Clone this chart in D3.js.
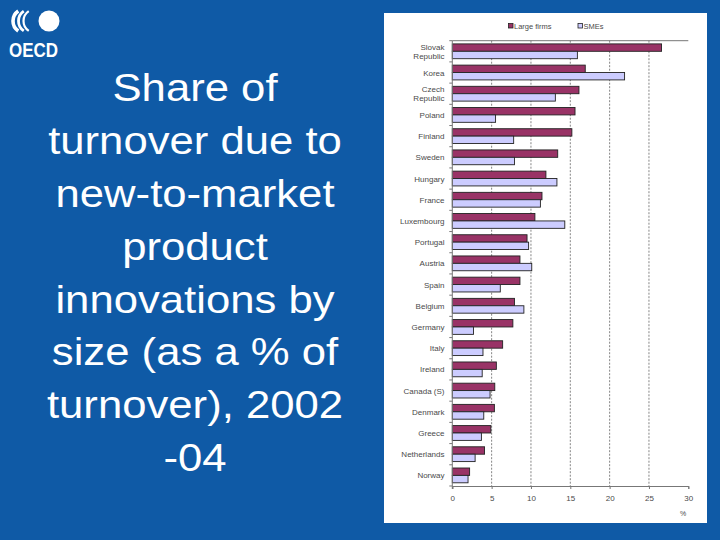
<!DOCTYPE html>
<html><head><meta charset="utf-8">
<script src="https://cdn.jsdelivr.net/npm/d3@7"></script>
<style>body{margin:0;padding:0;background:#0F5AA6;}svg{display:block;}</style>
</head><body>
<svg id="c" width="720" height="540"></svg>
<script>
const titleLines = ["Share of","turnover due to","new-to-market","product","innovations by","size (as a % of","turnover), 2002","-04"];
const categories = ["Slovak Republic","Korea","Czech Republic","Poland","Finland","Sweden","Hungary","France","Luxembourg","Portugal","Austria","Spain","Belgium","Germany","Italy","Ireland","Canada (S)","Denmark","Greece","Netherlands","Norway"];
const largeFirms = [26.6,16.9,16.1,15.6,15.2,13.4,11.9,11.4,10.5,9.5,8.6,8.6,7.9,7.7,6.4,5.6,5.4,5.35,4.9,4.1,2.2];
const smes = [15.9,21.9,13.1,5.5,7.8,7.9,13.3,11.2,14.3,9.7,10.1,6.1,9.1,2.7,3.9,3.8,4.8,4.0,3.7,2.9,2.0];
const seriesNames = ["Large firms","SMEs"];
const xTicks = [0,5,10,15,20,25,30];
const unitLabel = "%";

const svg = d3.select("#c");
svg.append("rect").attr("width",720).attr("height",540).attr("fill","#0F5AA6");

// logo
const logo = svg.append("g");
logo.append("circle").attr("cx",49).attr("cy",21).attr("r",10.5).attr("fill","#fff");
[[13,3.6],[18.5,2.8],[23.5,2.2]].forEach(([lx,w])=>{
  const r=12, cx=lx+r, cy=21;
  const a=Math.PI*0.62;
  const p=d3.path();
  p.arc(cx,cy,r,Math.PI-a/2,Math.PI+a/2);
  logo.append("path").attr("d",p.toString()).attr("fill","none").attr("stroke","#fff").attr("stroke-width",w);
});
logo.append("text").attr("x",9).attr("y",57).attr("font-family","Liberation Sans, Arial, sans-serif")
  .attr("font-weight","bold").attr("font-size",21).attr("fill","#fff")
  .attr("textLength",49).attr("lengthAdjust","spacingAndGlyphs").text("OECD");

// title
const tg = svg.append("g").attr("transform","translate(195,0) scale(1.12,1)");
tg.selectAll("text").data(titleLines).join("text")
  .attr("x",0).attr("y",(d,i)=>101+i*52.9)
  .attr("text-anchor","middle").attr("font-family","Liberation Sans, Arial, sans-serif")
  .attr("font-size",39).attr("fill","#fff").text(d=>d);

// panel
svg.append("rect").attr("x",384).attr("y",13).attr("width",323).attr("height",510).attr("fill","#fff");

const x = d3.scaleLinear().domain([0,30]).range([452.3,688.3]);
const y = d3.scaleBand().domain(categories).range([40.7,486]).padding(0);
const barH = 7.4;
const ff = "Liberation Sans, Arial, sans-serif";
const txtCol = "#4a4a4a";

// gridlines
svg.append("g").selectAll("line").data(xTicks.filter(t=>t>0&&t<30)).join("line")
  .attr("x1",d=>x(d)).attr("x2",d=>x(d)).attr("y1",40.7).attr("y2",486)
  .attr("stroke","#666").attr("stroke-width",0.8).attr("stroke-dasharray","2,1.5");
// top line
svg.append("line").attr("x1",x(0)).attr("x2",x(30)).attr("y1",40.7).attr("y2",40.7).attr("stroke","#777").attr("stroke-width",1);

// bars
const colors = ["#993366","#CCCCFF"];
const g = svg.append("g");
categories.forEach((c,i)=>{
  const c0 = y(c)+y.bandwidth()/2 - barH;
  [largeFirms[i],smes[i]].forEach((v,k)=>{
    g.append("rect").attr("x",x(0)).attr("y",c0+k*barH).attr("width",x(v)-x(0)).attr("height",barH)
      .attr("fill",colors[k]).attr("stroke","#222").attr("stroke-width",0.9);
  });
});

// axes
const xAxis = d3.axisBottom(x).tickValues(xTicks).tickSize(3).tickPadding(6);
const ax = svg.append("g").attr("transform","translate(0,486)").call(xAxis);
ax.select(".domain").attr("stroke","#777");
ax.selectAll(".tick line").attr("stroke","#777");
ax.selectAll("text").attr("font-family",ff).attr("font-size",8).attr("fill",txtCol);

svg.append("line").attr("x1",x(0)).attr("x2",x(0)).attr("y1",40.7).attr("y2",489).attr("stroke","#777");
const bounds = categories.map(c=>y(c)).concat([486]);
svg.append("g").selectAll("line").data(bounds).join("line")
  .attr("x1",x(0)-3).attr("x2",x(0)).attr("y1",d=>d).attr("y2",d=>d).attr("stroke","#777");

// category labels
const lab = svg.append("g");
categories.forEach(c=>{
  const cy = y(c)+y.bandwidth()/2;
  const parts = c.endsWith(" Republic") ? [c.replace(" Republic",""),"Republic"] : [c];
  const t = lab.append("text").attr("text-anchor","end").attr("font-family",ff).attr("font-size",8).attr("fill",txtCol);
  parts.forEach((p,j)=>{
    t.append("tspan").attr("x",444.5).attr("y",cy+3 + (parts.length>1 ? (j? 4.5:-4.5):0)).text(p);
  });
});

svg.append("text").attr("x",683).attr("y",516).attr("text-anchor","middle").attr("font-family",ff)
  .attr("font-size",7).attr("fill",txtCol).text(unitLabel);

// legend
const leg = svg.append("g");
[[508.5,0],[578,1]].forEach(([lx,k])=>{
  leg.append("rect").attr("x",lx).attr("y",23.5).attr("width",4.5).attr("height",4.5)
    .attr("fill",colors[k]).attr("stroke","#222").attr("stroke-width",0.8);
  leg.append("text").attr("x",lx+5.5).attr("y",28.5).attr("font-family",ff).attr("font-size",7.5)
    .attr("fill",txtCol).text(seriesNames[k]);
});
</script>
</body></html>
